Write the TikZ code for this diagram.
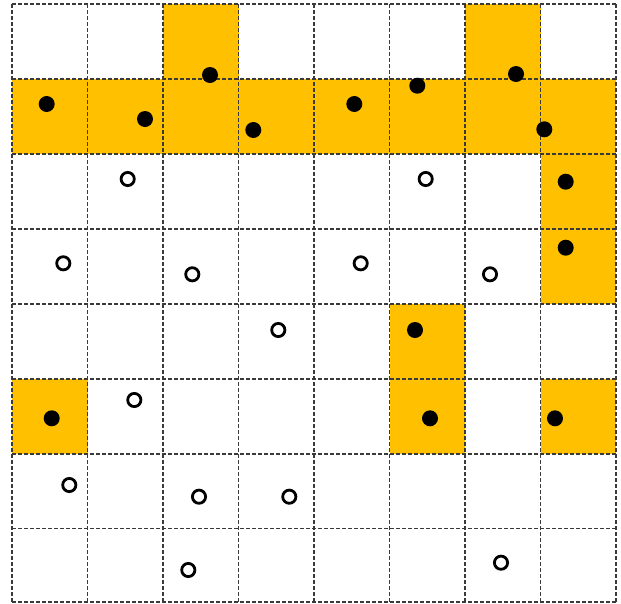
\documentclass[tikz,border=0pt]{standalone}
\usepackage{tikz}
\definecolor{cellorange}{HTML}{FFC000}
\definecolor{gridgray}{HTML}{3A3A3A}
\tikzset{
  cellfill/.style={fill=cellorange, draw=none},
  gridline/.style={draw=gridgray, line width=1.6pt, dash pattern=on 4pt off 2pt},
  fulldot/.style={fill=black, draw=none},
  opendot/.style={draw=black, line width=2.8pt, fill=white},
}
\begin{document}
\begin{tikzpicture}[x=1pt,y=-1pt]
\useasboundingbox (0,0) rectangle (621,603);
% orange cells: (x0,y0,x1,y1)
\foreach \a/\b/\c/\d in {
  163/4/238.5/79, 465/4/540.5/79,
  12/79/616/154,
  540.5/154/616/304,
  389.5/304/465/454,
  12/379/87.5/454,
  540.5/379/616/454}
  \fill[cellfill] (\a,\b) rectangle (\c,\d);
% grid
\foreach \x in {12,87.5,163,238.5,314,389.5,465,540.5,616}
  \draw[gridline] (\x,4) -- (\x,602);
\foreach \y in {4,79,154,229,304,379,454,528.5,602}
  \draw[gridline] (12,\y) -- (616,\y);
% filled dots
\foreach \x/\y in {46.7/104, 145/119, 210/75, 253.3/130, 354.3/104, 417.3/85.7,
  516/74, 544.3/129.3, 565.7/181.7, 565.7/247.7, 415/330, 430/418.3,
  555/418.3, 51.7/418.3}
  \fill[fulldot] (\x,\y) circle (8);
% open circles
\foreach \x/\y in {127.7/179, 63.3/263.3, 192.3/274.3, 425.7/179, 360.7/263.3,
  490/274.3, 278.3/330, 134.3/400, 69.3/485, 199/496.7, 289.3/496.7,
  188.3/570, 501/562.7}
  \draw[opendot] (\x,\y) circle (6.6);
\end{tikzpicture}
\end{document}
